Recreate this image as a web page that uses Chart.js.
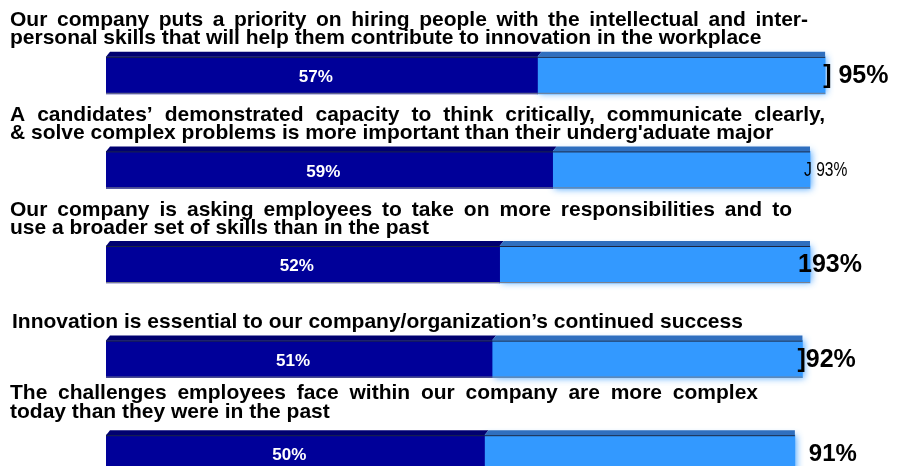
<!DOCTYPE html>
<html>
<head>
<meta charset="utf-8">
<script src="https://cdn.jsdelivr.net/npm/chart.js@4.4.1/dist/chart.umd.min.js"></script>
<style>
  html, body { margin: 0; padding: 0; background: #fff; overflow: hidden; }
  #wrap { width: 898px; height: 501px; }
</style>
</head>
<body>
<div id="wrap"><canvas id="myChart"></canvas></div>
<script>
const statements = [
  ['Our company puts a priority on hiring people with the intellectual and inter-',
   'personal skills that will help them contribute to innovation in the workplace'],
  ['A candidates\u2019 demonstrated capacity to think critically, communicate clearly,',
   '& solve complex problems is more important than their underg\'aduate major'],
  ['Our company is asking employees to take on more responsibilities and to',
   'use a broader set of skills than in the past'],
  ['Innovation is essential to our company/organization\u2019s continued success'],
  ['The challenges employees face within our company are more complex',
   'today than they were in the past']
];
const stronglyAgree = [57, 59, 52, 51, 50];
const somewhatAgree = [38, 34, 41, 41, 41];
const totalLabels = ['] 95%', 'J 93%', '193%', ']92%', '91%'];

const TITLE_FONT = 'bold 21px "Liberation Sans", Arial, sans-serif';

function drawJustified(ctx, text, x, y, right) {
  const words = text.split(' ');
  const widths = words.map(w => ctx.measureText(w).width);
  const sum = widths.reduce((a, b) => a + b, 0);
  const gap = (right - x - sum) / (words.length - 1);
  let cx = x;
  words.forEach((w, k) => {
    ctx.fillText(w, cx, y);
    cx += widths[k] + gap;
  });
}

const decorPlugin = {
  id: 'decor',
  beforeDatasetDraw(chart, args) {
    if (args.index === 1) {
      const ctx = chart.ctx;
      ctx.save();
      ctx.shadowColor = 'rgba(51,153,255,0.85)';
      ctx.shadowBlur = 7;
      ctx.shadowOffsetX = 2;
    }
  },
  afterDatasetDraw(chart, args) {
    if (args.index === 1) chart.ctx.restore();
  },
  afterDatasetsDraw(chart, args, opts) {
    const ctx = chart.ctx;
    const topColors = ['#000070', '#2f6fbf'];
    // 3D top edge and outlines
    chart.data.datasets.forEach((ds, d) => {
      chart.getDatasetMeta(d).data.forEach(el => {
        const top = el.y - el.height / 2;
        const bottom = el.y + el.height / 2;
        const left = Math.min(el.x, el.base);
        const right = Math.max(el.x, el.base);
        ctx.save();
        ctx.fillStyle = topColors[d];
        ctx.beginPath();
        ctx.moveTo(left, top);
        ctx.lineTo(left + 4, top - 5);
        ctx.lineTo(right + (d === 0 ? 4 : 0), top - 5);
        ctx.lineTo(right, top);
        ctx.closePath();
        ctx.fill();
        ctx.strokeStyle = '#1b2540';
        ctx.lineWidth = 1;
        ctx.beginPath();
        ctx.moveTo(left, top + 0.5);
        ctx.lineTo(right, top + 0.5);
        ctx.stroke();
        ctx.strokeStyle = '#7a7f8c';
        ctx.beginPath();
        ctx.moveTo(left, bottom - 0.5);
        ctx.lineTo(right, bottom - 0.5);
        ctx.stroke();
        ctx.restore();
      });
    });

    // values inside the dark segments
    ctx.save();
    ctx.fillStyle = '#ffffff';
    ctx.font = 'bold 17px "Liberation Sans", Arial, sans-serif';
    ctx.textAlign = 'center';
    ctx.textBaseline = 'middle';
    chart.getDatasetMeta(0).data.forEach((el, i) => {
      ctx.fillText(stronglyAgree[i] + '%', (el.x + el.base) / 2 - 6, el.y + 2);
    });
    ctx.restore();

    // totals to the right
    ctx.fillStyle = '#000000';
    chart.getDatasetMeta(1).data.forEach((el, i) => {
      ctx.save();
      ctx.font = opts.totalFonts[i];
      ctx.textAlign = 'left';
      ctx.textBaseline = 'middle';
      ctx.translate(el.x + opts.totalGap[i], el.y + 1);
      ctx.scale(opts.totalScaleX[i], 1);
      ctx.fillText(totalLabels[i], 0, 0);
      ctx.restore();
    });

    // statement headings above each bar
    ctx.save();
    ctx.fillStyle = '#000000';
    ctx.font = TITLE_FONT;
    ctx.textAlign = 'left';
    ctx.textBaseline = 'alphabetic';
    const yScale = chart.scales.y;
    statements.forEach((lines, i) => {
      const cy = yScale.getPixelForValue(i) + opts.titleShift[i];
      const n = lines.length;
      lines.forEach((line, j) => {
        const by = cy - 31 - (n - 1 - j) * opts.lineGap[i];
        const x = opts.titleX[i];
        if (j === 0 && n > 1) drawJustified(ctx, line, x, by, opts.justifyTo[i]);
        else ctx.fillText(line, x, by);
      });
    });
    ctx.restore();
  }
};

new Chart('myChart', {
  type: 'bar',
  data: {
    labels: statements,
    datasets: [{
      label: 'Strongly agree',
      data: stronglyAgree,
      backgroundColor: '#000099',
      borderWidth: 0,
      barThickness: 37
    }, {
      label: 'Somewhat agree',
      data: somewhatAgree,
      backgroundColor: '#3399ff',
      borderWidth: 0,
      barThickness: 37
    }]
  },
  options: {
    indexAxis: 'y',
    responsive: true,
    maintainAspectRatio: false,
    animation: false,
    layout: { padding: { top: 28, left: 106, right: 35, bottom: 0 } },
    scales: {
      x: { stacked: true, min: 0, max: 100, display: false },
      y: { stacked: true, display: false }
    },
    plugins: {
      legend: { display: false },
      tooltip: { enabled: false },
      decor: {
        titleX: [10, 10, 10, 12, 10],
        titleShift: [0, 0, 0, 0, -5],
        lineGap: [18, 18, 18, 18, 19],
        justifyTo: [808, 825, 792, 0, 758],
        totalGap: [-2, -6, -12, -5, 14],
        totalScaleX: [1, 0.78, 1, 1, 1],
        totalFonts: [
          'bold 25px "Liberation Sans", Arial, sans-serif',
          '20px "Liberation Sans", Arial, sans-serif',
          'bold 25px "Liberation Sans", Arial, sans-serif',
          'bold 25px "Liberation Sans", Arial, sans-serif',
          'bold 24px "Liberation Sans", Arial, sans-serif'
        ]
      }
    }
  },
  plugins: [decorPlugin]
});
</script>
</body>
</html>
